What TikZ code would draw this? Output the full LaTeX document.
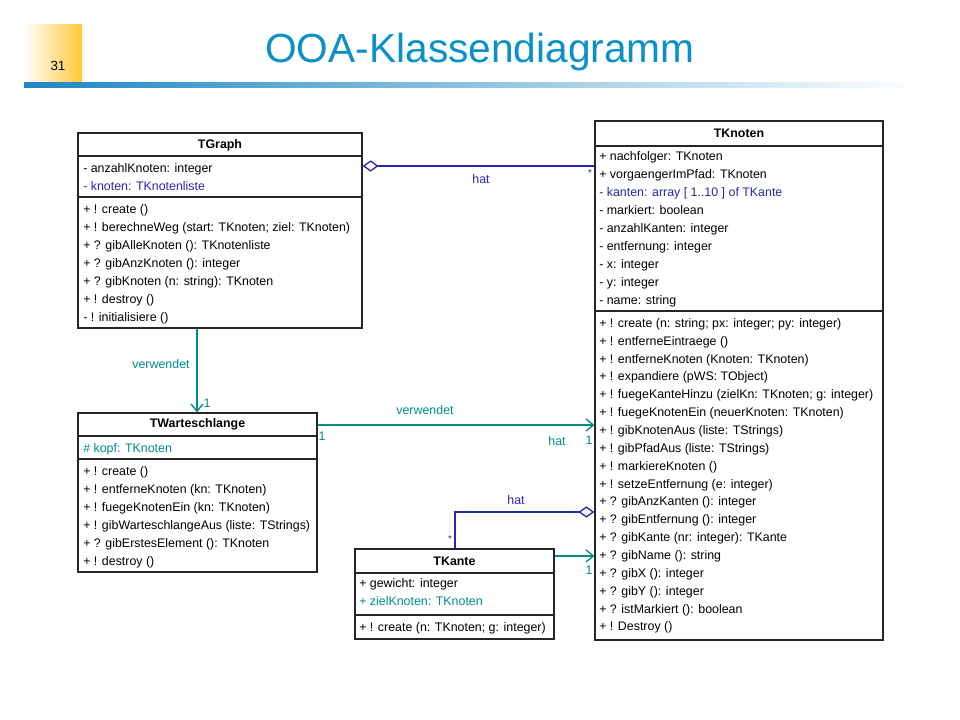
\documentclass[tikz,border=0pt]{standalone}
\usepackage{fontspec}
\setmainfont{Liberation Sans}
\usetikzlibrary{fit,positioning,arrows.meta}

\definecolor{umlblue}{RGB}{40,40,175}
\definecolor{umlteal}{RGB}{0,140,140}
\definecolor{titleblue}{RGB}{10,145,200}
\definecolor{barblue}{RGB}{30,135,195}
\definecolor{boxgold}{RGB}{255,200,55}

\begin{document}
\begin{tikzpicture}[x=0.75pt,y=-0.75pt,
    cls/.style={draw=black!85, line width=0.9pt, inner sep=0pt},
    cname/.style={font=\bfseries\fontsize{9.3}{11}\selectfont, inner sep=0pt},
    row/.style={anchor=west, inner sep=0pt, text height=1.7ex, text depth=0.45ex,
      font=\fontsize{9.3}{11}\selectfont},
    lbl/.style={font=\fontsize{9.3}{11}\selectfont, inner sep=0pt},
    mult/.style={font=\fontsize{7.5}{8}\selectfont, inner sep=0pt},
    dep/.style={umlteal, line width=1pt, -{Straight Barb[length=5.5pt,width=9pt]}},
    aggr/.style={umlblue, line width=1pt, {Diamond[open,length=12pt,width=8.5pt]}-},
  ]
  \useasboundingbox[fill=white] (0,0) rectangle (960,720);

  % header
  \shade[left color=white, right color=boxgold] (24,25) rectangle (82,82);
  \node[font=\fontsize{10}{12}\selectfont] (pagenr) at (58,66) {31};
  \shade[left color=barblue, right color=white] (24,83) rectangle (925,88);
  \node[font=\fontsize{30.5}{36}\selectfont, text=titleblue] (title) at (480,52) {OOA-Klassendiagramm};

  % TGraph
  \node[cls, fit={(78,133) (362,328)}] (graph) {};
  \node[cname] (graphname) at (220,145) {TGraph};
  \draw[cls] (graph.west |- 0,156) -- (graph.east |- 0,156)
             (graph.west |- 0,197) -- (graph.east |- 0,197);
  \foreach \t [count=\i from 0] in {- anzahlKnoten: integer,
      {\color{umlblue}- knoten: TKnotenliste}}
    \node[row] at (83,{168+18*\i}) {\t};
  \foreach \t [count=\i from 0] in {+ ! create (),
      + ! berechneWeg (start: TKnoten; ziel: TKnoten),
      + ? gibAlleKnoten (): TKnotenliste,
      + ? gibAnzKnoten (): integer,
      + ? gibKnoten (n: string): TKnoten,
      + ! destroy (),
      - ! initialisiere ()}
    \node[row] at (83,{209+18*\i}) {\t};

  % TKnoten
  \node[cls, fit={(595,121) (883,640)}] (knoten) {};
  \node[cname] (knotenname) at (739,133) {TKnoten};
  \draw[cls] (knoten.west |- 0,146) -- (knoten.east |- 0,146)
             (knoten.west |- 0,311) -- (knoten.east |- 0,311);
  \foreach \t [count=\i from 0] in {+ nachfolger: TKnoten,
      + vorgaengerImPfad: TKnoten,
      {\color{umlblue}- kanten: array [ 1..10 ] of TKante},
      - markiert: boolean,
      - anzahlKanten: integer,
      - entfernung: integer,
      - x: integer,
      - y: integer,
      - name: string}
    \node[row] at (599,{156+18*\i}) {\t};
  \foreach \t [count=\i from 0] in {+ ! create (n: string; px: integer; py: integer),
      + ! entferneEintraege (),
      + ! entferneKnoten (Knoten: TKnoten),
      + ! expandiere (pWS: TObject),
      + ! fuegeKanteHinzu (zielKn: TKnoten; g: integer),
      + ! fuegeKnotenEin (neuerKnoten: TKnoten),
      + ! gibKnotenAus (liste: TStrings),
      + ! gibPfadAus (liste: TStrings),
      + ! markiereKnoten (),
      + ! setzeEntfernung (e: integer),
      + ? gibAnzKanten (): integer,
      + ? gibEntfernung (): integer,
      + ? gibKante (nr: integer): TKante,
      + ? gibName (): string,
      + ? gibX (): integer,
      + ? gibY (): integer,
      + ? istMarkiert (): boolean,
      + ! Destroy ()}
    \node[row] at (599,{323+17.85*\i}) {\t};

  % TWarteschlange
  \node[cls, fit={(78,413) (317,572)}] (schlange) {};
  \node[cname] (schlangename) at (197.5,424) {TWarteschlange};
  \draw[cls] (schlange.west |- 0,436) -- (schlange.east |- 0,436)
             (schlange.west |- 0,459) -- (schlange.east |- 0,459);
  \node[row, text=umlteal] at (83,448) {\# kopf: TKnoten};
  \foreach \t [count=\i from 0] in {+ ! create (),
      + ! entferneKnoten (kn: TKnoten),
      + ! fuegeKnotenEin (kn: TKnoten),
      + ! gibWarteschlangeAus (liste: TStrings),
      + ? gibErstesElement (): TKnoten,
      + ! destroy ()}
    \node[row] at (83,{471+18*\i}) {\t};

  % TKante
  \node[cls, fit={(355,549) (554,639)}] (kante) {};
  \node[cname] (kantename) at (454.5,561) {TKante};
  \draw[cls] (kante.west |- 0,573) -- (kante.east |- 0,573)
             (kante.west |- 0,615) -- (kante.east |- 0,615);
  \foreach \t [count=\i from 0] in {+ gewicht: integer,
      {\color{umlteal}+ zielKnoten: TKnoten}}
    \node[row] at (359,{583+18*\i}) {\t};
  \node[row] at (359,627) {+ ! create (n: TKnoten; g: integer)};

  % associations
  \draw[aggr] (graph.east |- 0,166) -- (knoten.west |- 0,166);
  \node[lbl, text=umlblue] (hat1) at (481,179) {hat};
  \node[mult, text=umlblue] (m1) at (590,173) {*};

  \draw[dep] (graph.south -| 197,0) -- (schlange.north -| 197,0);
  \node[lbl, text=umlteal] (verw1) at (161,364) {verwendet};
  \node[lbl, text=umlteal] (m2) at (207,403) {1};

  \draw[dep] (schlange.east |- 0,425) -- (knoten.west |- 0,425);
  \node[lbl, text=umlteal] (verw2) at (425,410) {verwendet};
  \node[lbl, text=umlteal] (m3) at (322,436) {1};
  \node[lbl, text=umlteal] (hat2) at (557,441) {hat};
  \node[lbl, text=umlteal] (m4) at (589,440) {1};

  \draw[aggr] (knoten.west |- 0,512) -- (455,512) -- (kante.north -| 455,0);
  \node[lbl, text=umlblue] (hat3) at (516,500) {hat};
  \node[mult, text=umlblue] (m5) at (450,539) {*};

  \draw[dep] (kante.east |- 0,556) -- (knoten.west |- 0,556);
  \node[lbl, text=umlteal] (m6) at (589,570) {1};
\end{tikzpicture}
\end{document}
